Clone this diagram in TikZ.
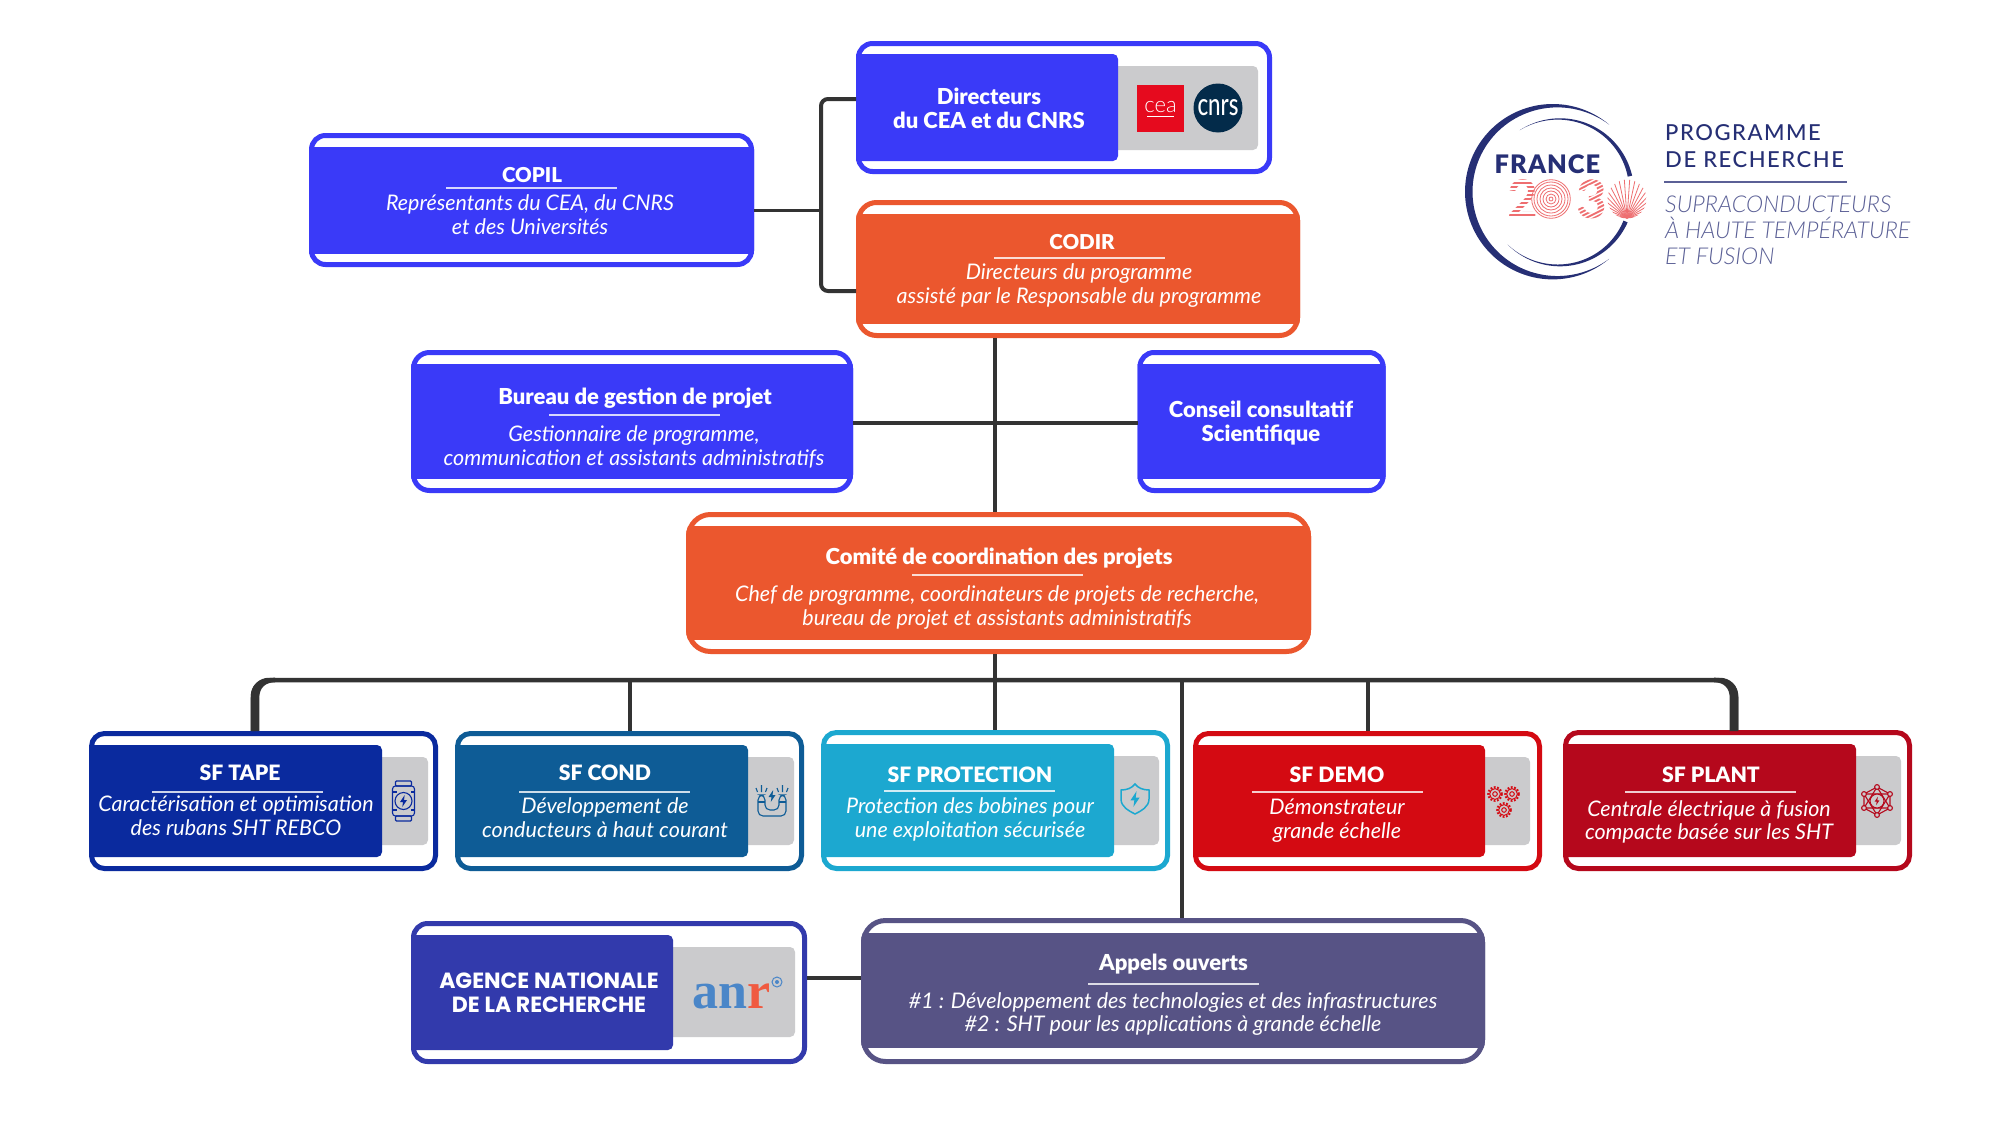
\documentclass[tikz,border=0pt]{standalone}
\usepackage{fontspec}
\usepackage{graphicx}
\newfontfamily\lat{Lato}
\newfontfamily\latl{Lato Light}
\newfontfamily\latb{Lato Black}
\newfontfamily\latm{Lato Medium}
\newfontfamily\pop{Poppins}
\newfontfamily\lib{Liberation Serif}
\definecolor{cblue}{HTML}{3A3AF8}
\definecolor{corange}{HTML}{EB572E}
\definecolor{ctape}{HTML}{0A2A9E}
\definecolor{ccond}{HTML}{0E5C96}
\definecolor{cprot}{HTML}{1CA8D0}
\definecolor{cdemo}{HTML}{D40A12}
\definecolor{cplant}{HTML}{B5081C}
\definecolor{canr}{HTML}{323AAC}
\definecolor{capp}{HTML}{575385}
\definecolor{cgrey}{HTML}{CBCBCD}
\definecolor{cconn}{HTML}{333333}
\definecolor{clogo}{HTML}{262F75}
\definecolor{clogol}{HTML}{5B6096}
\definecolor{cpink}{HTML}{EE6E70}
\definecolor{ccea}{HTML}{E60A1E}
\definecolor{ccnrs}{HTML}{032B4A}
\definecolor{canrb}{HTML}{4A86C8}
\definecolor{canrr}{HTML}{F05A40}
\tikzset{
  titletxt/.style={font=\latb\fontsize{22}{24}\selectfont,text=white,inner sep=0pt,anchor=base,yshift=-1.2pt},
  capstxt/.style={font=\latb\fontsize{20.5}{24}\selectfont,text=white,inner sep=0pt,anchor=base,yshift=-1.2pt},
  sftxt/.style={font=\latb\fontsize{21.2}{24}\selectfont,text=white,inner sep=0pt,anchor=base,yshift=-1.2pt},
  bodytxt/.style={font=\lat\itshape\fontsize{21.5}{22}\selectfont,text=white,inner sep=0pt,align=center},
  conn/.style={draw=cconn,line width=4pt},
  thinconn/.style={draw=cconn,line width=3pt},
  iconl/.style={line width=1.1pt,fill=none},
  logotxt/.style={text=clogo,inner sep=0pt,anchor=base west},
  logoit/.style={text=clogol,inner sep=0pt,anchor=base west,font=\latl\itshape\fontsize{23.2}{26}\selectfont},
}
% name x0 y0 x1 y1 colour radius inner
\newcommand{\card}[8]{%
  \fill[white,rounded corners=#7+2pt] (#2,#3) rectangle (#4,#5);
  \begin{scope}
    \clip[rounded corners=#7+2pt] (#2,#3) rectangle (#4,#5);
    #8
  \end{scope}
  \node[draw=#6,line width=5pt,rounded corners=#7,inner sep=0pt,minimum width={#4-#2-5},minimum height={#5-#3-5}] (#1) at ({(#2+#4)/2},{(#3+#5)/2}) {};
}
\newcommand{\band}[5]{\fill[#5] (#1-2,#3) rectangle (#2+2,#4);}
\newcommand{\splitfill}[5]{% x0 xin y0 y1 colour
  \fill[#5,rounded corners=5pt] (#1-12,#3) rectangle (#2,#4);}
\newcommand{\gbox}[4]{\fill[cgrey,rounded corners=5pt] (#1,#3) rectangle (#2,#4);}
\newcommand{\titlet}[4]{\node[titletxt] (#1) at (#2,#3) {#4};}
\newcommand{\capst}[4]{\node[capstxt] (#1) at (#2,#3) {#4};}
\newcommand{\sft}[4]{\node[sftxt] (#1) at (#2,#3) {#4};}
\newcommand{\bodyt}[4]{\node[bodytxt] (#1) at (#2,{#3+7.8}) {\lineskiplimit=-100pt\relax #4};}
\newcommand{\rul}[3]{\draw[white,opacity=.8,line width=1.2pt] (#1,#3) -- (#2,#3);}
\newcommand{\bolt}{(1.2,-6)--(-3.5,1)--(-0.5,1)--(-1.2,6)--(3.5,-1)--(0.5,-1)--cycle}
\newcommand{\gear}[3]{%
  \draw[#3,line width=2pt,dash pattern=on 1.8pt off 1.6pt] (#1,#2) circle[radius=6.8];
  \draw[#3,line width=1pt] (#1,#2) circle[radius=5.4];
  \draw[#3,line width=1pt] (#1,#2) circle[radius=2.3];}
\begin{document}
\begin{tikzpicture}[x=1pt,y=-1pt]
\useasboundingbox (0,0) rectangle (2000,1127);
\fill[white] (0,0) rectangle (2000,1127);

% ---- cards
\card{copil}{309}{133}{754}{267}{cblue}{14}{\band{309}{754}{147}{254}{cblue}}
\card{dirs}{856}{41}{1272}{174}{cblue}{14}{\gbox{1100}{1258}{66}{150}\splitfill{856}{1118}{54}{161}{cblue}}
\card{codir}{856}{200}{1300}{338}{corange}{18}{\band{856}{1300}{214}{324}{corange}}
\card{bureau}{411}{350}{853}{493}{cblue}{16}{\band{411}{853}{364}{479}{cblue}}
\card{conseil}{1137.5}{350}{1385.5}{493}{cblue}{14}{\band{1137.5}{1385.5}{364}{479}{cblue}}
\card{comite}{686}{512}{1311}{654}{corange}{22}{\band{686}{1311}{526}{640}{corange}}
\card{sftape}{89}{731}{438}{871}{ctape}{13}{\gbox{370}{428}{757}{845}\splitfill{89}{382}{745}{857}{ctape}}
\card{sfcond}{455}{731}{804}{871}{ccond}{13}{\gbox{735}{794}{757}{845}\splitfill{455}{748}{745}{857}{ccond}}
\card{sfprot}{821}{730}{1170}{871}{cprot}{13}{\gbox{1100}{1159}{756}{845}\splitfill{821}{1114}{744}{857}{cprot}}
\card{sfdemo}{1193}{731}{1542}{871}{cdemo}{13}{\gbox{1470}{1530}{757}{845}\splitfill{1193}{1485}{745}{857}{cdemo}}
\card{sfplant}{1563}{730}{1912}{871}{cplant}{13}{\gbox{1840}{1901}{756}{845}\splitfill{1563}{1856}{744}{857}{cplant}}
\card{anr}{411}{921}{807}{1064}{canr}{14}{\gbox{660}{795}{947}{1037}\splitfill{411}{673}{935}{1050}{canr}}
\card{appels}{861}{918}{1485}{1064}{capp}{22}{\band{861}{1485}{933}{1048}{capp}}

% ---- connectors
\coordinate (brk) at (821,210);
\coordinate (axis) at (995,680);
\draw[thinconn] ([yshift=-10pt]copil.east) -- (brk);
\draw[conn,rounded corners=7pt] ([yshift=8.5pt]dirs.west) -| (brk) |- ([yshift=-22pt]codir.west);
\draw[conn] (axis |- codir.south) -- (axis |- comite.north);
\draw[conn] ([yshift=-1.5pt]bureau.east) -- ([yshift=-1.5pt]conseil.west);
\draw[conn] (axis |- comite.south) -- (axis);
\draw[line width=4.5pt,draw=cconn,rounded corners=16pt] ([xshift=-10.5pt]sftape.north) |- (axis) -| ([xshift=-1.5pt]sfplant.north);
\fill[cconn] (250.7,731) -- (250.7,698) .. controls (250.7,685) and (258,677.7) .. (275,677.7) -- (275,682.3) .. controls (265,682.3) and (259.3,688) .. (259.3,698) -- (259.3,731) -- cycle;
\fill[cconn] (1738.3,731) -- (1738.3,698) .. controls (1738.3,685) and (1731,677.7) .. (1714,677.7) -- (1714,682.3) .. controls (1724,682.3) and (1729.7,688) .. (1729.7,698) -- (1729.7,731) -- cycle;
\draw[conn] (sfcond.north |- axis) -- (sfcond.north);
\draw[conn] (sfdemo.north |- axis) -- (sfdemo.north);
\coordinate (axisb) at (1182,680);
\draw[conn] (axisb) -- (axisb |- appels.north);
\draw[conn] ([yshift=14.5pt]anr.east) -- ([yshift=13pt]appels.west);
\draw[conn] (axis) -- (axis |- sfprot.north);

% ---- texts
\capst{copilT}{532}{181}{COPIL}
\rul{446}{617}{188}
\bodyt{copilB}{530}{210}{\strut Représentants du CEA, du CNRS\\\strut et des Universités}

\node[titletxt,align=center,anchor=center] (dirsT) at (989,{103+7.2}) {\strut Directeurs\\\strut du CEA et du CNRS};

\capst{codirT}{1082}{248}{CODIR}
\rul{994}{1165}{258}
\bodyt{codirB}{1079}{279}{\strut Directeurs du programme\\\strut assisté par le Responsable du programme}

\titlet{bureauT}{635}{403}{Bureau de gestion de projet}
\rul{549}{720}{415}
\bodyt{bureauB}{634}{441}{\strut Gestionnaire de programme,\\\strut communication et assistants administratifs}

\node[titletxt,align=center,anchor=center] (conseilT) at (1261,{416+7.2}) {\strut Conseil consultatif\\\strut Scientifique};

\titlet{comiteT}{999}{563}{Comité de coordination des projets}
\rul{912}{1083}{575}
\bodyt{comiteB}{997}{601}{\strut Chef de programme, coordinateurs de projets de recherche,\\\strut bureau de projet et assistants administratifs}

\sft{tapeT}{240}{779}{SF TAPE}
\rul{152}{323}{792}
\bodyt{tapeB}{236}{811}{\strut Caractérisation et optimisation\\\strut des rubans SHT REBCO}

\sft{condT}{605}{779}{SF COND}
\rul{519}{690}{792}
\bodyt{condB}{605}{813}{\strut Développement de\\\strut conducteurs à haut courant}

\sft{protT}{970}{781}{SF PROTECTION}
\rul{884}{1055}{791}
\bodyt{protB}{970}{813}{\strut Protection des bobines pour\\\strut une exploitation sécurisée}

\sft{demoT}{1337}{781}{SF DEMO}
\rul{1252}{1423}{792}
\bodyt{demoB}{1337}{814}{\strut Démonstrateur\\\strut grande échelle}

\sft{plantT}{1711}{781}{SF PLANT}
\rul{1625}{1796}{792}
\bodyt{plantB}{1709}{815.5}{\strut Centrale électrique à fusion\\\strut compacte basée sur les SHT}

\node[font=\pop\bfseries\fontsize{22}{24.5}\selectfont,text=white,inner sep=0pt,align=center] (anrT) at (549,{988+7.35}) {\strut AGENCE NATIONALE\\\strut DE LA RECHERCHE};

\titlet{appelsT}{1173.5}{969.5}{Appels ouverts}
\rul{1088}{1259}{984}
\bodyt{appelsB}{1173}{1007.7}{\strut \#1 : Développement des technologies et des infrastructures\\\strut \#2 : SHT pour les applications à grande échelle}

% ---- cea / cnrs
\fill[ccea] (1137,85) rectangle (1184,132);
\node[inner sep=0pt,anchor=base,text=white,font=\latl\fontsize{22}{24}\selectfont] (ceaL) at (1160.5,112) {cea};
\draw[white,line width=1pt] (1147,116) -- (1174,116);
\fill[ccnrs] (1218,108) circle[radius=24.5];
\node[inner sep=0pt,anchor=base,text=white,font=\latm\fontsize{31}{34}\selectfont] (cnrsL) at (1218,115.5) {\scalebox{.72}[1]{cnrs}};

% ---- anr logo
\node[inner sep=0pt,anchor=base west,font=\lib\bfseries\fontsize{52}{56}\selectfont] (anrL) at (692,1008) {\textcolor{canrb}{an}\textcolor{canrr}{r}};
\draw[canrb,line width=1pt] (777,982) circle[radius=5];
\fill[canrb] (777,982) circle[radius=2];

% ---- icons
\begin{scope}[shift={(403.5,801)},ctape]
  \draw[iconl,rounded corners=3pt] (-11,-15) rectangle (11,15);
  \draw[iconl,rounded corners=1pt] (-8,-20) rectangle (8,-15);
  \draw[iconl,rounded corners=1pt] (-8,15) rectangle (8,20);
  \draw[iconl] (-11,-9) -- (-7,-9) (11,-9) -- (7,-9) (-11,9) -- (-7,9) (11,9) -- (7,9);
  \draw[iconl] (0,0) circle[radius=8.5];
  \fill \bolt;
\end{scope}
\begin{scope}[shift={(772,801)},ccond]
  \draw[iconl,rounded corners=5pt] (-14,-6) -- (-14,15) -- (14,15) -- (14,-6) -- (7,-6) -- (7,9) -- (-7,9) -- (-7,-6) -- cycle;
  \draw[iconl] (-14,1) -- (-7,1) (7,1) -- (14,1);
  \draw[iconl] (-10.5,-9) -- (-10.5,-16) (-14.5,-9) -- (-16,-13) (-6.5,-9) -- (-5,-13) (10.5,-9) -- (10.5,-16) (14.5,-9) -- (16,-13) (6.5,-9) -- (5,-13);
  \begin{scope}[yshift=5pt,scale=1]\fill \bolt;\end{scope}
\end{scope}
\begin{scope}[shift={(1135,799)},cprot]
  \draw[line width=1.5pt] (-14,-9) .. controls (-8,-9) and (-3,-11) .. (0,-15) .. controls (3,-11) and (8,-9) .. (14,-9) -- (14,0) .. controls (14,8) and (6,12) .. (0,15) .. controls (-6,12) and (-14,8) .. (-14,0) -- cycle;
  \begin{scope}[scale=1.3]\fill \bolt;\end{scope}
\end{scope}
\gear{1495}{794}{cdemo}
\gear{1512}{794}{cdemo}
\gear{1504}{810}{cdemo}
\begin{scope}[shift={(1877,801)},cplant]
  \draw[iconl] (0,-14) -- (13,-7) -- (13,7) -- (0,14) -- (-13,7) -- (-13,-7) -- cycle;
  \draw[iconl] (0,-14) -- (-13,7) -- (13,7) -- cycle;
  \draw[iconl] (0,14) -- (-13,-7) -- (13,-7) -- cycle;
  \fill[cgrey] (0,0) circle[radius=7];
  \draw[iconl] (0,0) circle[radius=7];
  \foreach \a/\b in {0/-14,13/-7,13/7,0/14,-13/7,-13/-7} {\fill[cgrey] (\a,\b) circle[radius=2.4]; \draw[iconl] (\a,\b) circle[radius=2.4];}
  \begin{scope}[scale=.7]\fill \bolt;\end{scope}
\end{scope}

% ---- France 2030 logo
\fill[clogo] plot[domain=50:310,samples=90] ({1552.7+87.7*cos(\x)},{191.7+87.7*sin(\x)}) -- plot[domain=310:50,samples=90] ({1552.7+(87.7-7.5*sin((\x-50)/260*180))*cos(\x)},{191.7+(87.7-7.5*sin((\x-50)/260*180))*sin(\x)}) -- cycle;
\fill[clogo] plot[domain=237:347,samples=60] ({1560+74*cos(\x)},{192.3+74*sin(\x)}) -- plot[domain=347:237,samples=60] ({1560+(74-4.5*(\x-237)/110)*cos(\x)},{192.3+(74-4.5*(\x-237)/110)*sin(\x)}) -- cycle;
\fill[clogo] plot[domain=24:135,samples=60] ({1560+74*cos(\x)},{192.3+74*sin(\x)}) -- plot[domain=135:24,samples=60] ({1560+(74-4.5*(135-\x)/111)*cos(\x)},{192.3+(74-4.5*(135-\x)/111)*sin(\x)}) -- cycle;
\node[logotxt,font=\latb\fontsize{25.5}{30}\selectfont\addfontfeature{LetterSpace=4},anchor=base] (france) at (1547.5,173.5) {FRANCE};
\node[inner sep=0pt,anchor=base,text=cpink,font=\lat\bfseries\fontsize{53}{60}\selectfont] (deux) at (1522.5,218) {2};
\foreach \yy in {181,185,...,217} {\draw[white,line width=1.4pt] (1505,\yy) -- (1540,\yy);}
\foreach \r in {2,5,8,11,14,17,19.3} {\draw[cpink,line width=.8pt] (1551,199) circle[radius=\r];}
\node[inner sep=0pt,anchor=base,text=cpink,font=\lat\bfseries\fontsize{53}{60}\selectfont] (trois) at (1591.5,218) {3};
\begin{scope}
  \clip (1574,179) rectangle (1610,221);
  \foreach \dd in {0,4,...,64} {\draw[white,line width=1.4pt] (1572,{175+\dd}) -- (1612,{175+\dd-20});}
\end{scope}
\begin{scope}
  \clip (1627,199) circle[radius=19.5];
  \foreach \a in {-84,-76,...,84} {\draw[cpink,line width=.8pt] (1627,218) -- ++({sin(\a)*50},{-cos(\a)*50});}
\end{scope}
\node[logotxt,font=\latm\fontsize{22}{26}\selectfont\addfontfeature{LetterSpace=7}] (prog1) at (1665,140) {PROGRAMME};
\node[logotxt,font=\latm\fontsize{22}{26}\selectfont\addfontfeature{LetterSpace=7}] (prog2) at (1665,167) {DE RECHERCHE};
\draw[clogol,line width=1.4pt] (1664,182) -- (1847,182);
\node[logoit] (sub1) at (1665,212) {SUPRACONDUCTEURS};
\node[logoit] (sub2) at (1665,238) {À HAUTE TEMPÉRATURE};
\node[logoit] (sub3) at (1665,264) {ET FUSION};
\end{tikzpicture}
\end{document}
